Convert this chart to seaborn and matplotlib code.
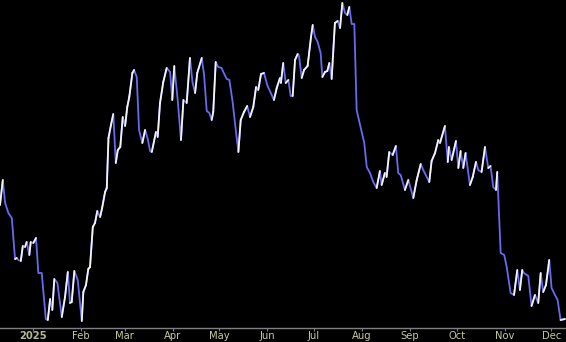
import numpy as np
import pandas as pd
import matplotlib
matplotlib.use("Agg")
import matplotlib.pyplot as plt
import matplotlib.dates as mdates
from matplotlib.collections import LineCollection
import seaborn as sns

# ---- data (days since 2025-01-01, price level) ----
day_offsets = [
    -21.3, -19.5, -18.0, -15.9, -13.7, -11.6, -10.5, -9.5, -7.9, -6.6, -5.2, -4.1, -2.4, -1.5,
    0.2, 1.9, 3.4, 5.6, 8.2, 9.5, 11.0, 12.4, 13.7, 15.7, 18.5, 20.6, 22.4, 23.8, 24.9, 26.6,
    28.8, 31.4, 32.4, 34.1, 35.6, 36.7, 38.5, 39.9, 41.4, 43.2, 44.5, 46.4, 47.5, 48.6, 50.2,
    51.7, 53.3, 54.6, 56.2, 57.8, 59.3, 60.7, 62.0, 64.0, 65.1, 66.8, 68.3, 70.4, 72.2, 73.9,
    75.4, 76.5, 79.2, 80.3, 81.8, 83.9, 86.1, 88.3, 89.7, 91.0, 93.2, 95.3, 96.9, 99.0, 101.1,
    102.7, 104.4, 105.8, 108.7, 110.2, 111.9, 113.6, 115.1, 116.1, 117.7, 119.3, 121.5, 122.6,
    124.8, 126.5, 128.6, 130.1, 132.3, 133.8, 135.9, 138.0, 139.8, 141.9, 143.7, 145.1, 146.9,
    148.8, 150.9, 155.2, 157.0, 159.1, 159.7, 161.2, 162.8, 164.5, 166.0, 167.3, 168.8, 170.5,
    171.4, 173.1, 174.6, 176.9, 179.1, 180.2, 181.7, 183.4, 185.3, 186.4, 188.1, 189.6, 190.9,
    192.4, 194.5, 196.3, 197.8, 199.3, 201.0, 202.5, 203.8, 205.3, 207.0, 208.5, 213.4, 215.0,
    217.1, 219.2, 221.4, 223.5, 224.6, 226.7, 227.8, 229.5, 231.7, 233.8, 235.3, 236.9, 239.6,
    241.8, 245.0, 247.2, 249.8, 251.4, 255.3, 256.8, 259.0, 261.1, 262.2, 265.4, 267.2, 268.0,
    269.7, 272.5, 274.0, 275.5, 277.2, 278.7, 281.5, 283.3, 285.4, 286.9, 289.0, 291.2, 293.3,
    294.8, 296.5, 298.3, 299.1, 301.3, 303.6, 305.2, 307.7, 309.9, 312.0, 313.7, 315.2, 316.3,
    319.1, 321.2, 323.4, 325.5, 327.1, 328.7, 330.5, 332.6, 334.1, 336.3, 338.0, 339.9, 342.7,
]
prices = [
    123, 148, 125, 115, 110, 69, 70, 68, 67, 82, 81, 86, 73, 86,
    85, 90, 55, 55, 9, 8, 29, 18, 49, 45, 11, 31, 56, 25, 26, 57,
    48, 7, 36, 43, 59, 61, 101, 105, 117, 111, 120, 136, 140, 190, 203,
    214, 165, 178, 181, 211, 202, 221, 231, 255, 258, 251, 198, 185, 198, 189,
    177, 176, 196, 191, 225, 246, 260, 256, 228, 262, 228, 188, 228, 225, 270,
    246, 235, 255, 270, 253, 217, 215, 208, 216, 266, 261, 260, 256,
    249, 248, 226, 205, 176, 208, 216, 222, 211, 221, 241, 238, 254,
    255, 243, 228, 240, 250, 245, 265, 245, 248, 232, 232, 268, 274,
    272, 250, 258, 262, 291, 303, 291, 286, 275, 251, 256, 257, 265,
    249, 305, 307, 300, 325, 315, 313, 321, 304, 304, 218, 185, 161,
    155, 146, 140, 157, 143, 155, 151, 176, 173, 182, 155, 153, 138,
    148, 130, 148, 164, 158, 146, 167, 175, 188, 185, 202, 166, 181,
    168, 187, 160, 177, 160, 175, 143, 151, 166, 158, 156, 181, 160,
    162, 141, 138, 156, 75, 73, 61, 35, 33, 58, 38, 58, 55,
    52, 22, 33, 25, 55, 36, 43, 68, 40, 33, 28, 8, 9,
]
month_labels = ["2025", "Feb", "Mar", "Apr", "May", "Jun", "Jul", "Aug", "Sep", "Oct", "Nov", "Dec"]

base = pd.Timestamp("2025-01-01")
dates = base + pd.to_timedelta(day_offsets, unit="D")
df = pd.DataFrame({"date": dates, "price": prices})

sns.set_style("dark")
plt.rcParams["font.family"] = ["DejaVu Sans"]

fig = plt.figure(figsize=(5.66, 3.42), dpi=100, facecolor="black")
ax = fig.add_axes([0, 14 / 342, 1, 328 / 342])
ax.set_facecolor("black")

up_col = "#f4f4f4"
down_col = "#6a6af0"

sns.lineplot(data=df, x="date", y="price", ax=ax, color=down_col, linewidth=1.3, estimator=None, sort=False)

xn = mdates.date2num(df["date"])
yv = np.asarray(prices, dtype=float)
segs = []
for i in range(len(xn) - 1):
    if yv[i + 1] > yv[i]:
        segs.append([(xn[i], yv[i]), (xn[i + 1], yv[i + 1])])
ax.add_collection(LineCollection(segs, colors=up_col, linewidths=1.3, capstyle="round", zorder=3))

ax.set_xlim(mdates.date2num(base + pd.Timedelta(days=-21.3)), mdates.date2num(base + pd.Timedelta(days=343.4)))
ax.set_ylim(0, 328)

ticks = pd.date_range("2025-01-01", periods=12, freq="MS")
ax.set_xticks(mdates.date2num(ticks))
ax.set_xticklabels(month_labels)
for i, lab in enumerate(ax.get_xticklabels()):
    lab.set_color("#c8c89c")
    lab.set_fontsize(7.2)
    if i == 0:
        lab.set_fontweight("bold")
        lab.set_color("#b8b890")
ax.tick_params(axis="x", direction="out", length=2, color="#808080", pad=0, bottom=True)
ax.set_yticks([])
ax.set_xlabel("")
ax.set_ylabel("")
ax.grid(False)
for s in ["top", "left", "right"]:
    ax.spines[s].set_visible(False)
ax.spines["bottom"].set_visible(True)
ax.spines["bottom"].set_color("#808080")
ax.spines["bottom"].set_linewidth(1.0)

fig.savefig("out.png", dpi=100, facecolor="black")
